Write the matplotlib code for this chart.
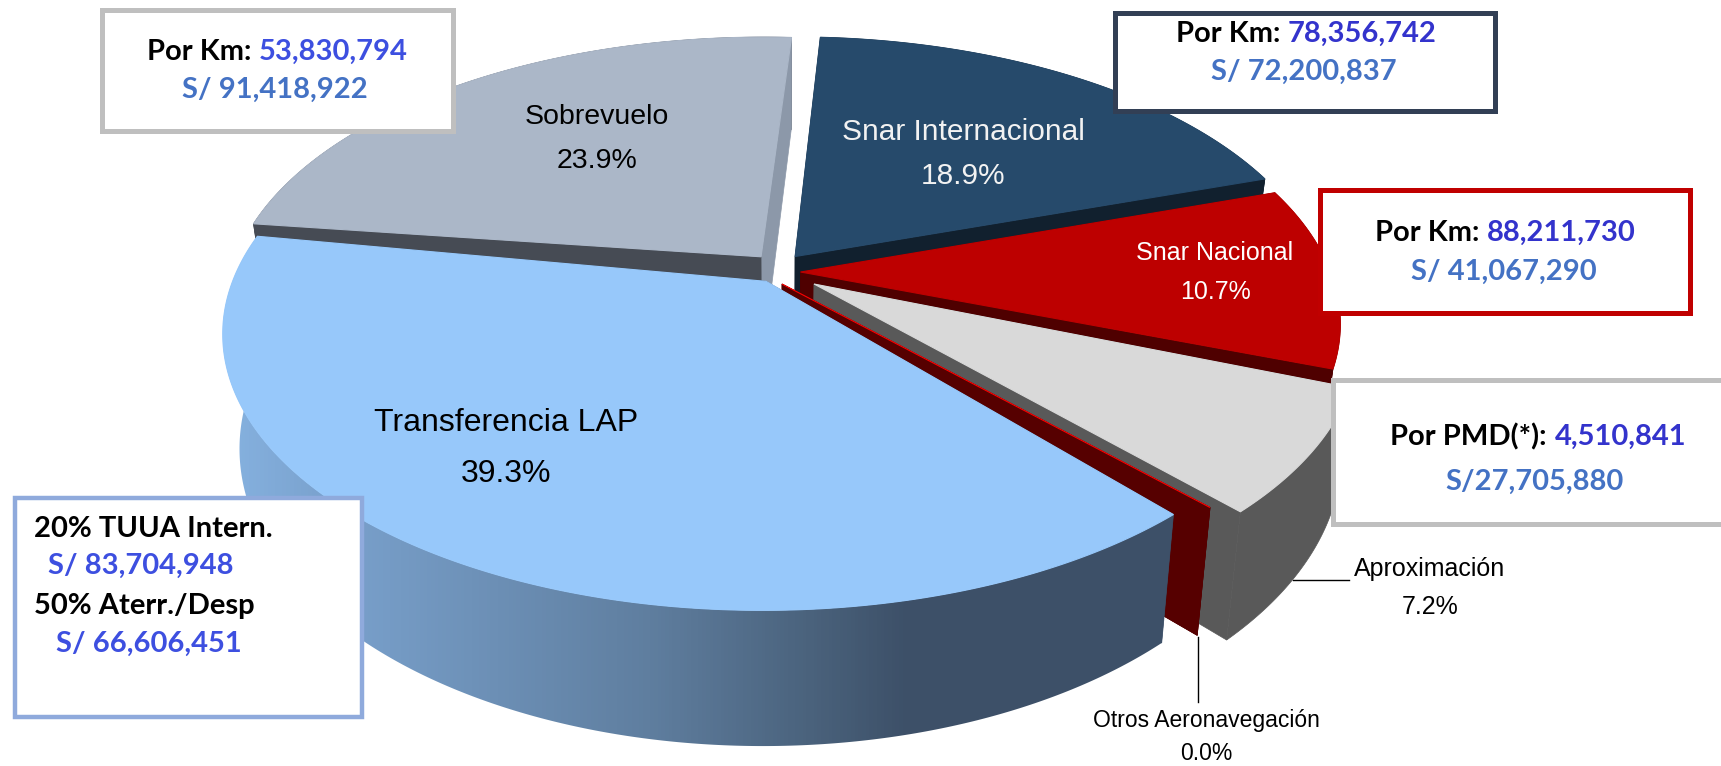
import numpy as np
import matplotlib
matplotlib.use("Agg")
import matplotlib.pyplot as plt
from matplotlib.colors import LinearSegmentedColormap
from matplotlib.patches import Polygon, Rectangle

# slice data, clockwise from the Transferencia edge
labels = ["Transferencia LAP", "Sobrevuelo", "Snar Internacional", "Snar Nacional",
          "Aproximación", "Otros Aeronavegación"]
shares = [39.3, 23.9, 18.9, 10.7, 7.2, 0.0]
# how far each slice is pulled out of the pie, and a small turn
pull_x = [-0.03, -0.04, 0.025, 0.035, 0.06, 0.0]
pull_y = [-0.035, 0.058, 0.059, 0.0, -0.045, -0.045]
turn = [-2.5, 0.0, 0.0, 0.0, -1.0, 0.0]
top_colors = ["#97C8FA", "#ABB7C8", "#264A6B", "#BD0000", "#D9D9D9", "#FF0000"]
start_face = ["#3D5068", "#464B54", "#11202E", "#4F0000", "#595959", "#560000"]
end_face = ["#3D5068", "#8C98A9", "#11202E", "#4F0000", "#595959", "#560000"]
wall_colors = [None, "#464B54", "#11202E", "#4F0000", "#595959", "#560000"]
draw_order = [1, 2, 3, 4, 5, 0]

# view of the tilted pie, in figure pixels
cx, cy = 782, 272
rx, ry = 530, 265
persp = 0.183
taper = 0.03
depth = 110
start_angle = -46.0

wall_pos = [0.0, 0.10, 0.45, 0.62, 0.72, 1.0]
wall_ramp = ["#86B2E0", "#7BA3CF", "#5F7E9F", "#4A627C", "#3D5068", "#3D5068"]

FONT = ["Liberation Sans"]
BOX_FONT = ["Lato", "DejaVu Sans"]
BLUE1 = "#3D4FE0"
BLUE2 = "#3333CC"
STEEL = "#4472C4"


def project(x, y, z=0.0):
    w = 1 + persp * y
    return cx + rx * x / w * (1 - taper * z), cy - ry * y / w + depth * z / w


def rim(t0, t1, ox, oy, z=0.0):
    t = np.radians(np.linspace(t0, t1, max(2, int(abs(t1 - t0)) * 2 + 2)))
    return project(np.cos(t) + ox, np.sin(t) + oy, z)


def box(ax, x0, y0, x1, y1, color, lw):
    ax.add_patch(Rectangle((x0, y0), x1 - x0, y1 - y0, fc="white", ec=color, lw=lw,
                           zorder=50, joinstyle="miter"))


def pair(ax, x, y, left, right, rcolor):
    ax.text(x - 4, y, left, ha="right", va="center", family=BOX_FONT, weight="bold",
            fontsize=21, color="black", zorder=60)
    ax.text(x + 4, y, right, ha="left", va="center", family=BOX_FONT, weight="bold",
            fontsize=21, color=rcolor, zorder=60)


def line(ax, x, y, s, color, ha="center"):
    ax.text(x, y, s, ha=ha, va="center", family=BOX_FONT, weight="bold",
            fontsize=21, color=color, zorder=60)


fig = plt.figure(figsize=(17.21, 7.66), dpi=100)
ax = fig.add_axes([0, 0, 1, 1])
ax.set_xlim(0, 1721)
ax.set_ylim(766, 0)
ax.axis("off")

ends = start_angle - np.cumsum(shares) * 3.6
begins = np.concatenate([[start_angle], ends[:-1]])

z = 2
for i in draw_order:
    t0, t1 = begins[i] + turn[i], ends[i] + turn[i]
    ox, oy = pull_x[i], pull_y[i]

    # outer wall
    xt, yt = rim(t0, t1, ox, oy)
    xb, yb = rim(t0, t1, ox, oy, 1)
    wall = np.column_stack([np.r_[xt, xb[::-1]], np.r_[yt, yb[::-1]]])
    if wall_colors[i] is not None:
        ax.add_patch(Polygon(wall, fc=wall_colors[i], ec=wall_colors[i], lw=0.5, zorder=z))
        z += 1

    # the two cut faces, from the apex out to the rim
    for t, col in ((t1, end_face[i]), (t0, start_face[i])):
        c, s = np.cos(np.radians(t)), np.sin(np.radians(t))
        p = [project(ox, oy), project(c + ox, s + oy),
             project(c + ox, s + oy, 1), project(ox, oy, 1)]
        ax.add_patch(Polygon(p, fc=col, ec=col, lw=0.5, zorder=z))
        z += 1

    # the big slice has a shaded wall that sits in front of its faces
    if wall_colors[i] is None:
        ramp = LinearSegmentedColormap.from_list("wall", list(zip(wall_pos, wall_ramp)))
        poly = Polygon(wall, fc="none", ec="none", zorder=z)
        ax.add_patch(poly)
        im = ax.imshow(np.linspace(0, 1, 256)[None, :], cmap=ramp, aspect="auto",
                       extent=(wall[:, 0].min(), wall[:, 0].max(), 766, 0), zorder=z)
        im.set_clip_path(poly)
        z += 1

    # top of the slice
    top = np.column_stack([np.r_[project(ox, oy)[0], xt], np.r_[project(ox, oy)[1], yt]])
    ax.add_patch(Polygon(top, fc=top_colors[i], ec=top_colors[i], lw=0.8, zorder=z))
    z += 1

ax.set_xlim(0, 1721)
ax.set_ylim(766, 0)

# slice labels
ax.text(506, 423, "Transferencia LAP", ha="center", va="center", family=FONT, fontsize=23, zorder=40)
ax.text(506, 474, "39.3%", ha="center", va="center", family=FONT, fontsize=23, zorder=40)
ax.text(597, 117, "Sobrevuelo", ha="center", va="center", family=FONT, fontsize=20.5, zorder=40)
ax.text(597, 161, "23.9%", ha="center", va="center", family=FONT, fontsize=20.5, zorder=40)
ax.text(963, 132, "Snar Internacional", ha="center", va="center", family=FONT, fontsize=21.5, color="#F2F2F2", zorder=40)
ax.text(963, 176, "18.9%", ha="center", va="center", family=FONT, fontsize=21.5, color="#F2F2F2", zorder=40)
ax.text(1215, 253, "Snar Nacional", ha="center", va="center", family=FONT, fontsize=18, color="white", zorder=40)
ax.text(1215, 292, "10.7%", ha="center", va="center", family=FONT, fontsize=18, color="white", zorder=40)
ax.text(1430, 569, "Aproximación", ha="center", va="center", family=FONT, fontsize=18, zorder=40)
ax.text(1430, 607, "7.2%", ha="center", va="center", family=FONT, fontsize=18, zorder=40)
ax.text(1206, 720, "Otros Aeronavegación", ha="center", va="center", family=FONT, fontsize=16.5, zorder=40)
ax.text(1206, 754, "0.0%", ha="center", va="center", family=FONT, fontsize=16.5, zorder=40)

# leader lines
ax.plot([1293, 1349], [580, 580], color="black", lw=1, zorder=40)
ax.plot([1198, 1198], [637, 702], color="black", lw=1, zorder=40)

# note boxes
box(ax, 101.5, 9.5, 452.5, 130.5, "#BFBFBF", 3.6)
pair(ax, 255, 52, "Por Km:", "53,830,794", BLUE1)
line(ax, 275, 90, "S/ 91,418,922", STEEL)

box(ax, 1115, 13, 1495, 111, "#323F55", 3.6)
pair(ax, 1284, 34, "Por Km:", "78,356,742", BLUE2)
line(ax, 1304, 72, "S/ 72,200,837", STEEL)

box(ax, 1319.5, 190, 1689.5, 313, "#C00000", 3.6)
pair(ax, 1483, 233, "Por Km:", "88,211,730", BLUE2)
line(ax, 1504, 272, "S/ 41,067,290", STEEL)

box(ax, 1333, 380, 1740, 524, "#BFBFBF", 3.6)
pair(ax, 1551, 437, "Por PMD(*):", "4,510,841", BLUE2)
line(ax, 1534, 482, "S/27,705,880", STEEL)

box(ax, 15, 498, 362, 717, "#8FAADC", 3.2)
line(ax, 34, 529, "20% TUUA Intern.", "black", ha="left")
line(ax, 48, 566, "S/ 83,704,948", BLUE1, ha="left")
line(ax, 34, 606, "50% Aterr./Desp", "black", ha="left")
line(ax, 56, 644, "S/ 66,606,451", BLUE1, ha="left")

fig.savefig("out.png", dpi=100, facecolor="white")
